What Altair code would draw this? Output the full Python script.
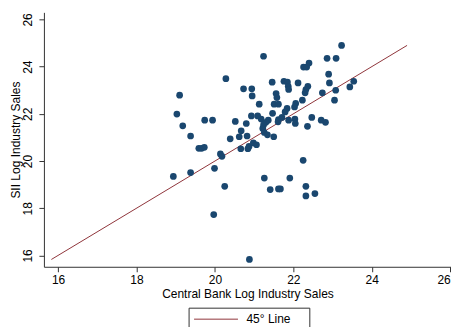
import altair as alt
import pandas as pd

x_vals = [19.10, 19.03, 19.18, 19.38, 19.74, 19.94, 20.28, 19.59, 19.66, 19.73,
          20.14, 20.18, 19.99, 18.94, 19.38, 19.97, 20.25, 22.25, 21.26, 21.41,
          21.62, 21.67, 21.91, 22.32, 22.32, 22.55, 20.88, 20.66, 20.84, 20.87,
          20.98, 21.06, 23.23, 21.24, 22.86, 23.09, 22.26, 22.34, 22.40, 22.90,
          21.46, 21.76, 21.85, 22.12, 21.87, 21.88, 22.92, 23.54, 23.44, 20.73,
          20.94, 20.95, 22.37, 22.32, 22.30, 23.08, 22.74, 21.56, 21.58, 23.05,
          22.23, 21.13, 21.51, 21.62, 22.06, 22.03, 21.84, 21.79, 21.47, 20.93,
          21.09, 21.18, 20.52, 20.80, 21.36, 21.30, 21.62, 21.71, 21.61, 21.88,
          22.04, 22.05, 22.47, 22.71, 22.82, 22.36, 21.24, 21.22, 21.26, 20.67,
          20.62, 20.39, 20.82, 21.34, 21.50]
y_vals = [22.79, 21.99, 21.49, 21.06, 21.73, 21.73, 23.49, 20.54, 20.54, 20.58,
          20.30, 20.20, 19.69, 19.35, 19.51, 17.73, 18.93, 20.03, 19.28, 18.79,
          18.82, 18.82, 19.28, 18.93, 18.52, 18.62, 15.83, 20.52, 20.52, 20.62,
          20.77, 20.69, 24.90, 24.44, 24.35, 24.35, 23.98, 23.98, 24.15, 23.68,
          23.34, 23.38, 23.35, 23.31, 23.17, 23.03, 23.31, 23.38, 23.14, 23.06,
          23.06, 22.76, 23.17, 23.03, 22.89, 23.00, 22.89, 22.86, 22.69, 22.58,
          22.58, 22.41, 22.41, 22.41, 22.44, 22.29, 22.23, 22.08, 22.02, 21.91,
          21.91, 21.78, 21.68, 21.59, 21.73, 21.64, 21.76, 21.85, 21.66, 21.73,
          21.78, 21.59, 21.85, 21.73, 21.64, 21.47, 21.53, 21.38, 21.21, 21.28,
          21.03, 20.94, 21.06, 21.11, 21.03]
tick_vals = [16, 18, 20, 22, 24, 26]
line_label = "45° Line"

pts = pd.DataFrame({"cb": x_vals, "sii": y_vals})
lo = min(min(x_vals), min(y_vals))
hi = max(max(x_vals), max(y_vals))
line_df = pd.DataFrame({"cb": [lo, hi], "sii": [lo, hi], "label": [line_label, line_label]})

FONT = "Liberation Sans"
xscale = alt.Scale(domain=[15.64, 26.02], nice=False, zero=False)
yscale = alt.Scale(domain=[15.52, 26.3], nice=False, zero=False)

xaxis = alt.Axis(values=tick_vals, title="Central Bank Log Industry Sales", grid=False,
                 tickSize=5, labelPadding=3, titlePadding=3, format="d")
yaxis = alt.Axis(values=tick_vals, title="SII Log Industry Sales", grid=False,
                 tickSize=5, labelPadding=4, format="d",
                 labelAngle=270, labelAlign="center", labelBaseline="bottom",
                 titleX=-28, titleBaseline="middle")

points = alt.Chart(pts).mark_circle(size=45, color="#1a476f", opacity=1).encode(
    x=alt.X("cb:Q", scale=xscale, axis=xaxis),
    y=alt.Y("sii:Q", scale=yscale, axis=yaxis),
)

line = alt.Chart(line_df).mark_line(strokeWidth=1).encode(
    x=alt.X("cb:Q", scale=xscale),
    y=alt.Y("sii:Q", scale=yscale),
    color=alt.Color("label:N", scale=alt.Scale(domain=[line_label], range=["#90353b"]),
                    legend=alt.Legend(title="\u00a0", titleOrient="right", titlePadding=14,
                                      titleFontSize=12, titleFont=FONT,
                                      orient="none", legendX=145, legendY=296,
                                      symbolType="M-3.667,0H3.667", symbolSize=144,
                                      symbolOffset=16,
                                      symbolStrokeWidth=1, labelOffset=24,
                                      padding=5, strokeColor="#333333",
                                      labelFontSize=12, labelFont=FONT)),
)

chart = alt.layer(line, points).properties(
    width=408, height=255,
    autosize=alt.AutoSizeParams(type="none"),
    padding={"left": 36, "top": 4, "right": 0, "bottom": 60},
).configure_view(strokeWidth=0).configure_axis(
    labelFont=FONT, titleFont=FONT, labelFontSize=12, titleFontSize=12,
    titleFontWeight="normal", labelColor="#000000", titleColor="#000000",
    domainColor="#333333", tickColor="#333333", domainWidth=1, tickWidth=1,
)

chart.save("out.html", embed_options={"renderer": "svg", "actions": False})
